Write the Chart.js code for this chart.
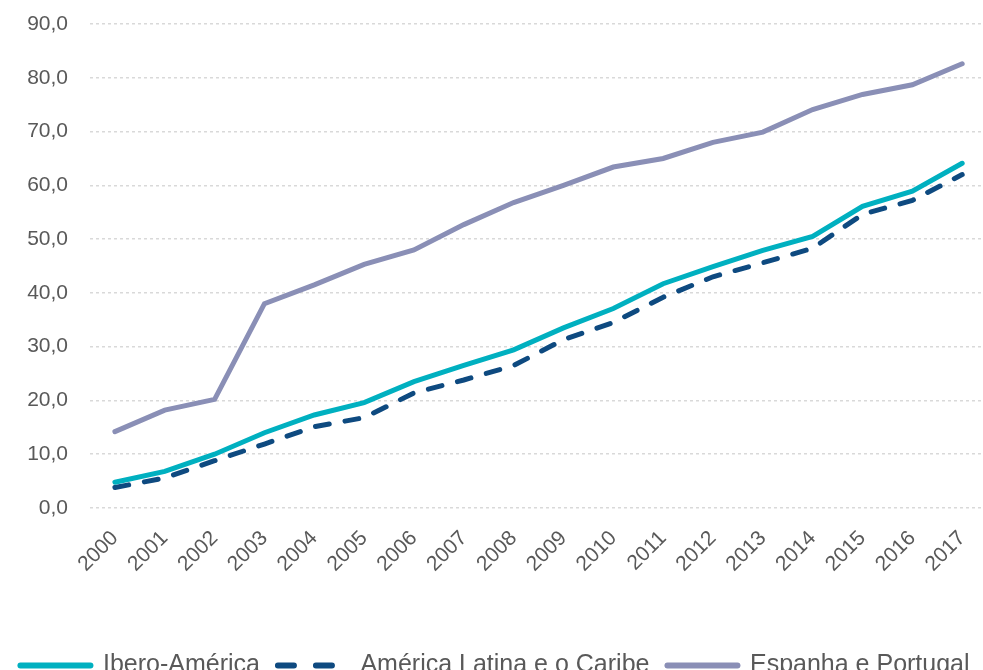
<!DOCTYPE html>
<html>
<head>
<meta charset="utf-8">
<script src="https://cdn.jsdelivr.net/npm/chart.js@4"></script>
<style>
  html, body { margin: 0; padding: 0; overflow: hidden; background: #fff; }
  #wrap { position: absolute; left: 0; top: 0; width: 990px; height: 688px; }
</style>
</head>
<body>
<div id="wrap"><canvas id="lineChart"></canvas></div>
<script>
// Chart data
const years = ["2000", "2001", "2002", "2003", "2004", "2005", "2006", "2007", "2008",
  "2009", "2010", "2011", "2012", "2013", "2014", "2015", "2016", "2017"];
const iberoAmerica = [4.8, 6.8, 10.0, 14.0, 17.3, 19.6, 23.5, 26.5, 29.4,
  33.5, 37.1, 41.7, 44.9, 47.9, 50.5, 56.1, 58.9, 64.1];
const americaLatina = [3.8, 5.6, 8.8, 11.9, 15.1, 16.8, 21.4, 23.8, 26.5,
  31.3, 34.5, 39.2, 43.0, 45.6, 48.3, 54.6, 57.2, 62.0];
const espanhaPortugal = [14.2, 18.2, 20.2, 38.0, 41.5, 45.3, 48.0, 52.7, 56.8,
  60.0, 63.4, 65.0, 68.0, 69.9, 74.1, 76.9, 78.7, 82.6];
const yTicks = [0, 10, 20, 30, 40, 50, 60, 70, 80, 90];

const textColor = "#595959";
const fontFamily = "'Liberation Sans', Arial, sans-serif";

// Format like "90,0"
function formatValue(num) {
  return num.toFixed(1).replace(".", ",");
}

const ctx = document.getElementById("lineChart").getContext("2d");
new Chart(ctx, {
  type: "line",
  data: {
    labels: years,
    datasets: [
      {
        label: "Ibero-América",
        data: iberoAmerica,
        borderColor: "#00B0C0",
        backgroundColor: "#00B0C0",
        borderWidth: 5,
        borderCapStyle: "round",
        pointRadius: 0,
        tension: 0
      },
      {
        label: "América Latina e o Caribe",
        data: americaLatina,
        borderColor: "#0E4A80",
        backgroundColor: "#0E4A80",
        borderWidth: 5,
        borderDash: [14, 16],
        borderCapStyle: "round",
        pointRadius: 0,
        tension: 0
      },
      {
        label: "Espanha e Portugal",
        data: espanhaPortugal,
        borderColor: "#8A8FB6",
        backgroundColor: "#8A8FB6",
        borderWidth: 5,
        borderCapStyle: "round",
        pointRadius: 0,
        tension: 0
      }
    ]
  },
  options: {
    responsive: true,
    maintainAspectRatio: false,
    animation: false,
    layout: { padding: { left: 0, right: 0, top: 0, bottom: 0 } },
    plugins: {
      legend: {
        position: "bottom",
        labels: {
          usePointStyle: true,
          pointStyle: "line",
          pointStyleWidth: 70,
          boxWidth: 70,
          boxHeight: 10,
          padding: 18,
          color: textColor,
          font: { family: fontFamily, size: 25 },
          generateLabels: function (chart) {
            const items = Chart.defaults.plugins.legend.labels.generateLabels(chart);
            items.forEach((item) => {
              const ds = chart.data.datasets[item.datasetIndex];
              item.lineWidth = 6;
              item.lineCap = "round";
              item.strokeStyle = ds.borderColor;
              item.lineDash = ds.borderDash ? [16, 22] : [];
            });
            return items;
          }
        }
      },
      tooltip: { enabled: false }
    },
    scales: {
      x: {
        offset: true,
        grid: { display: false },
        border: { display: false },
        afterFit: function (scale) { scale.height = 127; },
        ticks: {
          color: textColor,
          font: { family: fontFamily, size: 21 },
          maxRotation: 45,
          minRotation: 45,
          padding: 10
        }
      },
      y: {
        min: 0,
        max: 90,
        border: { display: false, dash: [3, 3] },
        grid: {
          color: "#D9D9D9",
          lineWidth: 1.5,
          drawTicks: false
        },
        afterFit: function (scale) {
          scale.width = 90;
          scale.paddingTop = 24;
          scale.paddingBottom = 0;
        },
        ticks: {
          stepSize: 10,
          color: textColor,
          padding: 22,
          font: { family: fontFamily, size: 21 },
          callback: function (value) {
            return yTicks.includes(value) ? formatValue(value) : "";
          }
        }
      }
    }
  }
});
</script>
</body>
</html>
